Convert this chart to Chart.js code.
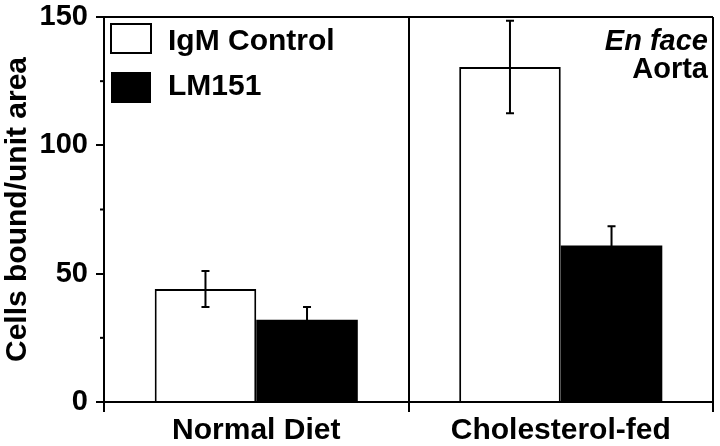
<!DOCTYPE html>
<html>
<head>
<meta charset="utf-8">
<script src="https://cdn.jsdelivr.net/npm/chart.js@4"></script>
<style>
    html, body { margin: 0; padding: 0; background: #fff; }
    #wrap { width: 720px; height: 446px; position: relative; }
</style>
</head>
<body>
<div id="wrap"><canvas id="chart"></canvas></div>
<script>
// Data
const categories = ['Normal Diet', 'Cholesterol-fed'];
const igmControl = [44, 130.5];
const igmControlErr = [7, 18];
const lm151 = [32, 61];
const lm151Err = [5, 7.5];
const yTicks = [0, 50, 100, 150];
const yMinorTicks = [25, 75, 125];

const FONT = '"Liberation Sans", Arial, Helvetica, sans-serif';

// Error bars, minor ticks, top border, legend and annotation
const extras = {
    id: 'extras',
    afterDatasetsDraw(chart) {
        const ctx = chart.ctx;
        const y = chart.scales.y;
        const area = chart.chartArea;
        const errs = [igmControlErr, lm151Err];
        const vals = [igmControl, lm151];

        ctx.save();
        ctx.strokeStyle = '#000';
        ctx.lineWidth = 2;

        // error bars
        chart.data.datasets.forEach((ds, i) => {
            const meta = chart.getDatasetMeta(i);
            meta.data.forEach((bar, j) => {
                const hi = y.getPixelForValue(vals[i][j] + errs[i][j]);
                const lo = y.getPixelForValue(vals[i][j] - errs[i][j]);
                ctx.beginPath();
                ctx.moveTo(bar.x, hi);
                ctx.lineTo(bar.x, lo);
                ctx.moveTo(bar.x - 4, hi);
                ctx.lineTo(bar.x + 4, hi);
                ctx.moveTo(bar.x - 4, lo);
                ctx.lineTo(bar.x + 4, lo);
                ctx.stroke();
            });
        });

        // top border of the frame
        ctx.beginPath();
        ctx.moveTo(area.left, area.top);
        ctx.lineTo(area.right, area.top);
        ctx.stroke();

        // minor ticks on the y axis
        yMinorTicks.forEach(v => {
            const py = y.getPixelForValue(v);
            ctx.beginPath();
            ctx.moveTo(area.left - 4, py);
            ctx.lineTo(area.left, py);
            ctx.stroke();
        });

        // legend inside the plot
        ctx.fillStyle = '#fff';
        ctx.fillRect(111, 24, 40, 29);
        ctx.strokeRect(111, 24, 40, 29);
        ctx.fillStyle = '#000';
        ctx.fillRect(111, 72, 40, 31);
        ctx.font = 'bold 30px ' + FONT;
        ctx.textAlign = 'left';
        ctx.textBaseline = 'alphabetic';
        ctx.fillText(chart.data.datasets[0].label, 168, 50);
        ctx.fillText(chart.data.datasets[1].label, 168, 95);

        // annotation top right
        ctx.textAlign = 'right';
        ctx.font = 'italic bold 29px ' + FONT;
        ctx.fillText('En face', 708, 50);
        ctx.font = 'bold 29px ' + FONT;
        ctx.fillText('Aorta', 708, 78);
        ctx.restore();
    }
};

new Chart(document.getElementById('chart'), {
    type: 'bar',
    data: {
        labels: categories,
        datasets: [
            {
                label: 'IgM Control',
                data: igmControl,
                backgroundColor: '#fff',
                borderColor: '#000',
                borderWidth: 2
            },
            {
                label: 'LM151',
                data: lm151,
                backgroundColor: '#000',
                borderColor: '#000',
                borderWidth: 0
            }
        ]
    },
    options: {
        responsive: true,
        maintainAspectRatio: false,
        animation: false,
        layout: { padding: { top: 17, right: 7, left: 0, bottom: 0 } },
        plugins: {
            legend: { display: false },
            tooltip: { enabled: false }
        },
        datasets: {
            bar: { categoryPercentage: 0.667, barPercentage: 1 }
        },
        scales: {
            x: {
                grid: {
                    offset: true,
                    color: '#000',
                    lineWidth: 2,
                    tickLength: 10,
                    drawOnChartArea: true
                },
                border: { color: '#000', width: 2 },
                ticks: {
                    color: '#000',
                    padding: 1,
                    font: { family: FONT, size: 30, weight: 'bold' }
                },
                afterFit(scale) {
                    scale.height = 44;
                    scale.paddingLeft = 0;
                    scale.paddingRight = 0;
                }
            },
            y: {
                min: 0,
                max: 150,
                afterBuildTicks(scale) {
                    scale.ticks = yTicks.map(v => ({ value: v }));
                },
                grid: {
                    drawOnChartArea: false,
                    color: '#000',
                    lineWidth: 2,
                    tickLength: 8
                },
                border: { color: '#000', width: 2 },
                ticks: {
                    color: '#000',
                    padding: 8,
                    font: { family: FONT, size: 29, weight: 'bold' }
                },
                title: {
                    display: true,
                    text: 'Cells bound/unit area',
                    color: '#000',
                    padding: { top: 0, bottom: 0 },
                    font: { family: FONT, size: 30, weight: 'bold' }
                },
                afterFit(scale) {
                    scale.width = 104;
                    scale.paddingTop = 0;
                    scale.paddingBottom = 0;
                }
            }
        }
    },
    plugins: [extras]
});
</script>
</body>
</html>
